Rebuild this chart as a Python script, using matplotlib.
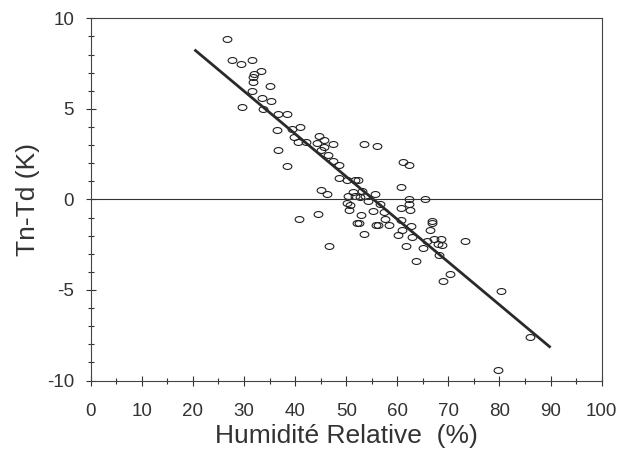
import matplotlib
matplotlib.use('Agg')
import matplotlib.pyplot as plt
from matplotlib.path import Path
from matplotlib.transforms import Affine2D
from matplotlib.ticker import MultipleLocator
import numpy as np

# humidité relative (%) et Tn-Td (K)
hum = [26.6, 27.6, 29.5, 31.5, 33.3, 32.0, 31.8, 31.7, 35.1, 31.6,
       33.5, 35.3, 29.7, 33.8, 36.6, 38.4, 36.4, 39.3, 41.0, 44.7,
       45.7, 36.6, 38.4, 39.8, 40.6, 42.1, 44.3, 45.0, 45.7, 47.5,
       46.5, 47.5, 48.5, 48.5, 50.1, 51.7, 52.4, 45.1, 46.2, 50.4,
       50.1, 50.6, 44.4, 40.8, 53.5, 56.1, 61.2, 62.2, 60.7, 51.4,
       53.0, 55.7, 51.7, 52.7, 53.7, 54.3, 56.6, 62.3, 65.4, 62.3,
       50.7, 55.2, 57.4, 60.7, 62.5, 52.8, 57.5, 60.7, 66.7, 66.8,
       52.2, 52.5, 55.8, 56.3, 58.4, 62.7, 60.9, 66.4, 53.5, 60.2,
       62.8, 65.8, 67.2, 68.6, 68.0, 68.7, 73.2, 46.6, 61.8, 65.0,
       68.2, 63.7, 70.3, 68.9, 80.3, 86.0, 79.8]
dt = [8.88, 7.68, 7.50, 7.68, 7.07, 6.91, 6.76, 6.48, 6.28, 5.98,
      5.58, 5.41, 5.10, 5.01, 4.73, 4.70, 3.81, 3.91, 3.99, 3.48,
      3.26, 2.71, 1.82, 3.44, 3.17, 3.17, 3.11, 2.71, 2.89, 3.08,
      2.43, 2.10, 1.88, 1.20, 1.05, 1.05, 1.09, 0.50, 0.31, 0.18,
      -0.18, -0.57, -0.79, -1.07, 3.08, 2.97, 2.08, 1.92, 0.68, 0.40,
      0.46, 0.31, 0.17, 0.13, 0.17, -0.06, -0.28, 0.00, 0.00, -0.24,
      -0.33, -0.66, -0.70, -0.48, -0.57, -0.88, -1.09, -1.12, -1.20, -1.29,
      -1.29, -1.29, -1.40, -1.40, -1.40, -1.49, -1.67, -1.71, -1.90, -1.99,
      -2.08, -2.27, -2.19, -2.17, -2.45, -2.50, -2.30, -2.58, -2.58, -2.69,
      -3.09, -3.39, -4.10, -4.48, -5.07, -7.57, -9.41]

# droite de regression
fit_x = [20.3, 90.0]
fit_a = 13.06
fit_b = -0.236

plt.rcParams['font.family'] = ['Liberation Sans', 'DejaVu Sans']
plt.rcParams['axes.unicode_minus'] = False

fig = plt.figure(figsize=(6.18, 4.5), dpi=100)
ax = fig.add_axes([0.1468, 0.1544, 0.8268, 0.8049])

# marqueur ellipse (plus large que haut)
circ = Path.unit_circle()
ell = Path(Affine2D().scale(1.0, 0.68).transform(circ.vertices), circ.codes)

ax.plot(hum, dt, linestyle='none', marker=ell, markersize=6.3,
        markerfacecolor='none', markeredgecolor='#222222', markeredgewidth=0.8)

fx = np.array(fit_x)
ax.plot(fx, fit_a + fit_b * fx, color='#2a2a2a', linewidth=2.0,
        solid_capstyle='butt')
ax.axhline(0, color='#333333', linewidth=0.8)

ax.set_xlim(0, 100)
ax.set_ylim(-10, 10)
ax.xaxis.set_major_locator(MultipleLocator(10))
ax.xaxis.set_minor_locator(MultipleLocator(5))
ax.yaxis.set_major_locator(MultipleLocator(5))
ax.yaxis.set_minor_locator(MultipleLocator(1))

ax.tick_params(which='major', direction='inout', length=7, width=0.8,
               color='#333333', labelsize=13.5, labelcolor='#333333')
ax.tick_params(which='minor', direction='inout', length=5, width=0.8,
               color='#333333')
ax.tick_params(axis='x', which='major', pad=12.5)
ax.tick_params(axis='y', which='major', pad=8.5)

for sp in ax.spines.values():
    sp.set_color('#444444')
    sp.set_linewidth(0.8)

ax.set_xlabel('Humidité Relative  (%)', fontsize=19, color='#333333')
ax.set_ylabel('Tn-Td (K)', fontsize=19, color='#333333')
ax.xaxis.set_label_coords(0.5, -0.12)
ax.yaxis.set_label_coords(-0.099, 0.5)

plt.savefig('out.png', dpi=100)
